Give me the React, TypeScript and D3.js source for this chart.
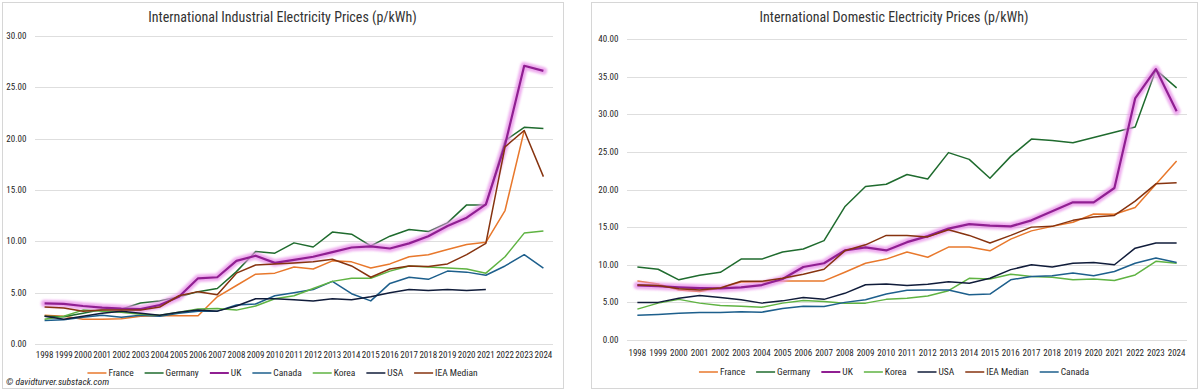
import React, { useRef, useEffect } from "react";
import * as d3 from "d3";

const FONT = "'Liberation Sans Narrow', 'Arial Narrow', 'Roboto Condensed', 'Liberation Sans', sans-serif";

const years = ["1998", "1999", "2000", "2001", "2002", "2003", "2004", "2005", "2006", "2007", "2008", "2009", "2010",
	"2011", "2012", "2013", "2014", "2015", "2016", "2017", "2018", "2019", "2020", "2021", "2022", "2023", "2024"];

// industrial prices, p/kWh
const indFrance = [2.8, 2.7, 2.4, 2.4, 2.45, 2.7, 2.75, 2.75, 2.75, 4.6, 5.7, 6.8, 6.9, 7.5, 7.3, 8.1, 8.0, 7.4, 7.8, 8.5, 8.7, 9.2, 9.7, 9.9, 13.0, 20.8, null];
const indGermany = [2.7, 2.65, 3.0, 3.35, 3.4, 4.0, 4.2, 4.6, 5.1, 5.4, 7.05, 9.0, 8.85, 9.85, 9.45, 10.9, 10.7, 9.55, 10.5, 11.15, 10.95, 11.8, 13.55, 13.55, 19.8, 21.1, 21.0];
const indUK = [3.95, 3.9, 3.7, 3.55, 3.45, 3.4, 3.8, 4.6, 6.4, 6.5, 8.1, 8.6, 7.9, 8.2, 8.5, 8.95, 9.4, 9.5, 9.3, 9.8, 10.5, 11.5, 12.3, 13.6, 19.4, 27.1, 26.6];
const indCanada = [2.3, 2.35, 2.6, 2.8, 2.6, 2.8, 2.7, 3.0, 3.2, 3.2, 3.8, 3.9, 4.7, 5.0, 5.3, 6.1, 4.9, 4.2, 5.9, 6.5, 6.3, 7.1, 7.0, 6.7, 7.6, 8.7, 7.4];
const indKorea = [2.4, 2.7, 3.3, 3.2, 3.1, 2.9, 2.8, 3.1, 3.4, 3.45, 3.3, 3.7, 4.4, 4.7, 5.4, 6.1, 6.4, 6.4, 7.1, 7.6, 7.5, 7.4, 7.3, 6.9, 8.5, 10.8, 11.0];
const indUSA = [2.7, 2.4, 2.7, 3.0, 3.2, 3.0, 2.8, 3.1, 3.3, 3.2, 3.7, 4.4, 4.4, 4.3, 4.2, 4.4, 4.3, 4.6, 5.0, 5.3, 5.2, 5.3, 5.2, 5.3, null, null, null];
const indMedian = [3.6, 3.5, 3.2, 3.3, 3.3, 3.3, 3.6, 4.7, 5.1, 4.8, 6.9, 7.7, 7.8, 7.9, 8.0, 8.25, 7.6, 6.5, 7.3, 7.6, 7.55, 7.8, 8.7, 9.8, 19.2, 20.8, 16.3];

// domestic prices, p/kWh
const domFrance = [7.85, 7.45, 6.65, 6.45, 6.9, 7.7, 7.7, 7.85, 7.85, 7.85, 9.0, 10.2, 10.75, 11.7, 11.0, 12.35, 12.35, 11.85, 13.4, 14.5, 15.1, 15.65, 16.75, 16.7, 17.6, 20.7, 23.8];
const domGermany = [9.7, 9.4, 8.0, 8.6, 9.0, 10.75, 10.75, 11.7, 12.1, 13.2, 17.7, 20.4, 20.7, 22.0, 21.4, 24.9, 24.0, 21.5, 24.4, 26.7, 26.5, 26.2, 26.9, 27.6, 28.3, 35.9, 33.5];
const domUK = [7.25, 7.15, 7.0, 6.9, 6.85, 7.0, 7.3, 8.1, 9.7, 10.2, 11.9, 12.3, 11.9, 13.0, 13.8, 14.8, 15.4, 15.2, 15.1, 15.9, 17.1, 18.3, 18.3, 20.2, 32.1, 36.0, 30.4];
const domKorea = [4.1, 4.9, 5.4, 4.9, 4.6, 4.5, 4.35, 4.9, 5.25, 5.1, 4.9, 4.9, 5.4, 5.55, 5.85, 6.55, 8.2, 8.1, 8.75, 8.45, 8.35, 8.0, 8.1, 7.9, 8.65, 10.45, 10.2];
const domUSA = [5.0, 5.0, 5.55, 5.9, 5.65, 5.35, 4.9, 5.2, 5.65, 5.4, 6.2, 7.35, 7.45, 7.25, 7.4, 7.75, 7.55, 8.2, 9.35, 10.0, 9.7, 10.2, 10.3, 10.0, 12.2, 12.9, 12.9];
const domMedian = [7.3, 7.25, 6.8, 6.65, 6.9, 7.8, 7.8, 8.2, 8.75, 9.4, 11.85, 12.65, 13.9, 13.9, 13.7, 14.65, 13.9, 12.9, 13.9, 15.0, 15.1, 15.9, 16.35, 16.55, 18.45, 20.75, 20.9];
const domCanada = [3.3, 3.4, 3.55, 3.65, 3.65, 3.75, 3.7, 4.2, 4.5, 4.45, 5.0, 5.35, 6.1, 6.6, 6.65, 6.65, 6.0, 6.1, 8.0, 8.45, 8.55, 8.9, 8.55, 9.1, 10.2, 10.9, 10.3];

const colors = {
	France: "#e8782c",
	Germany: "#1f6b2e",
	UK: "#901f92",
	Canada: "#1d5f8c",
	Korea: "#5fb342",
	USA: "#101c3a",
	"IEA Median": "#86330f",
};

const indSeries = [
	{ name: "France", values: indFrance },
	{ name: "Germany", values: indGermany },
	{ name: "UK", values: indUK },
	{ name: "Canada", values: indCanada },
	{ name: "Korea", values: indKorea },
	{ name: "USA", values: indUSA },
	{ name: "IEA Median", values: indMedian },
];

const domSeries = [
	{ name: "France", values: domFrance },
	{ name: "Germany", values: domGermany },
	{ name: "UK", values: domUK },
	{ name: "Korea", values: domKorea },
	{ name: "USA", values: domUSA },
	{ name: "IEA Median", values: domMedian },
	{ name: "Canada", values: domCanada },
];

const drawPanel = (svg, opts) => {
	const g = svg.append("g");
	const { box, plot, yMax, title, series, legendY, yearY } = opts;

	g.append("rect")
		.attr("x", box[0] + 0.5).attr("y", box[1] + 0.5)
		.attr("width", box[2] - box[0]).attr("height", box[3] - box[1])
		.attr("fill", "#fff").attr("stroke", "#d6d6d6");

	const cx = (box[0] + box[2]) / 2;

	g.append("text")
		.attr("x", cx).attr("y", 22)
		.attr("text-anchor", "middle")
		.attr("font-family", FONT).attr("font-size", 14)
		.attr("fill", "#333")
		.text(title);

	const xScale = d3.scalePoint().domain(years).range([plot.x0, plot.x1]).padding(0.5);
	const yScale = d3.scaleLinear().domain([0, yMax]).range([plot.y0, plot.y1]);

	const ticks = d3.range(0, yMax + 0.01, 5);
	g.append("g").selectAll("line")
		.data(ticks).enter().append("line")
		.attr("x1", plot.x0).attr("x2", plot.x1)
		.attr("y1", d => Math.round(yScale(d)) + 0.5).attr("y2", d => Math.round(yScale(d)) + 0.5)
		.attr("stroke", "#dedede").attr("stroke-width", 1);

	g.append("g").selectAll("text")
		.data(ticks).enter().append("text")
		.attr("x", plot.x0 - 8.5).attr("y", d => yScale(d) + 3)
		.attr("text-anchor", "end")
		.attr("font-family", FONT).attr("font-size", 9)
		.attr("fill", "#262626")
		.text(d => d3.format(".2f")(d));

	g.append("g").selectAll("text")
		.data(years).enter().append("text")
		.attr("x", d => xScale(d)).attr("y", yearY)
		.attr("text-anchor", "middle")
		.attr("font-family", FONT).attr("font-size", 9)
		.attr("fill", "#262626")
		.text(d => d);

	const line = d3.line()
		.defined(d => d[1] != null)
		.x(d => xScale(d[0]))
		.y(d => yScale(d[1]));

	series.forEach(s => {
		const pts = years.map((y, i) => [y, s.values[i]]);
		if (s.name === "UK") {
			g.append("path")
				.attr("d", line(pts))
				.attr("fill", "none")
				.attr("stroke", "#e890e8")
				.attr("stroke-width", 7.5)
				.attr("stroke-opacity", 0.75)
				.attr("stroke-linejoin", "round")
				.attr("stroke-linecap", "round")
				.attr("filter", "url(#glow)");
			g.append("path")
				.attr("d", line(pts))
				.attr("fill", "none")
				.attr("stroke", colors[s.name])
				.attr("stroke-width", 2.2)
				.attr("stroke-linejoin", "round");
		} else {
			g.append("path")
				.attr("d", line(pts))
				.attr("fill", "none")
				.attr("stroke", colors[s.name])
				.attr("stroke-width", 1.5)
				.attr("stroke-linejoin", "round");
		}
	});

	// legend, centred on the panel
	const leg = g.append("g");
	let xPos = 0;
	series.forEach((s, i) => {
		leg.append("line")
			.attr("x1", xPos).attr("x2", xPos + 19)
			.attr("y1", legendY).attr("y2", legendY)
			.attr("stroke", colors[s.name])
			.attr("stroke-width", s.name === "UK" ? 2 : 1.5);
		const t = leg.append("text")
			.attr("x", xPos + 21).attr("y", legendY + 3.2)
			.attr("font-family", FONT).attr("font-size", 9.5)
			.attr("fill", "#262626")
			.text(s.name);
		const w = t.node().getComputedTextLength();
		xPos += 21 + w + (i < series.length - 1 ? 11 : 0);
	});
	leg.attr("transform", `translate(${cx - xPos / 2}, 0)`);
};

const App = () => {
	const ref = useRef(null);

	useEffect(() => {
		const svg = d3.select(ref.current);
		svg.selectAll("*").remove();

		const defs = svg.append("defs");
		defs.append("filter").attr("id", "glow")
			.attr("x", "-10%").attr("y", "-10%").attr("width", "120%").attr("height", "120%")
			.append("feGaussianBlur").attr("stdDeviation", 1.2);

		drawPanel(svg, {
			box: [2, 2, 563, 388],
			plot: { x0: 35, x1: 553, y0: 344, y1: 36 },
			yMax: 30,
			title: "International Industrial Electricity Prices (p/kWh)",
			series: indSeries,
			legendY: 373,
			yearY: 358,
		});

		drawPanel(svg, {
			box: [591, 2, 1197, 388],
			plot: { x0: 627, x1: 1187, y0: 340, y1: 39 },
			yMax: 40,
			title: "International Domestic Electricity Prices (p/kWh)",
			series: domSeries,
			legendY: 372,
			yearY: 356,
		});

		svg.append("text")
			.attr("x", 6).attr("y", 385)
			.attr("font-family", FONT).attr("font-size", 9.5)
			.attr("font-style", "italic")
			.attr("fill", "#262626")
			.text("© davidturver.substack.com");
	}, []);

	return (
		<svg ref={ref} width={1200} height={389}
			style={{ position: "absolute", left: 0, top: 0, background: "#fff", display: "block" }}>
		</svg>
	);
};

export default App;
